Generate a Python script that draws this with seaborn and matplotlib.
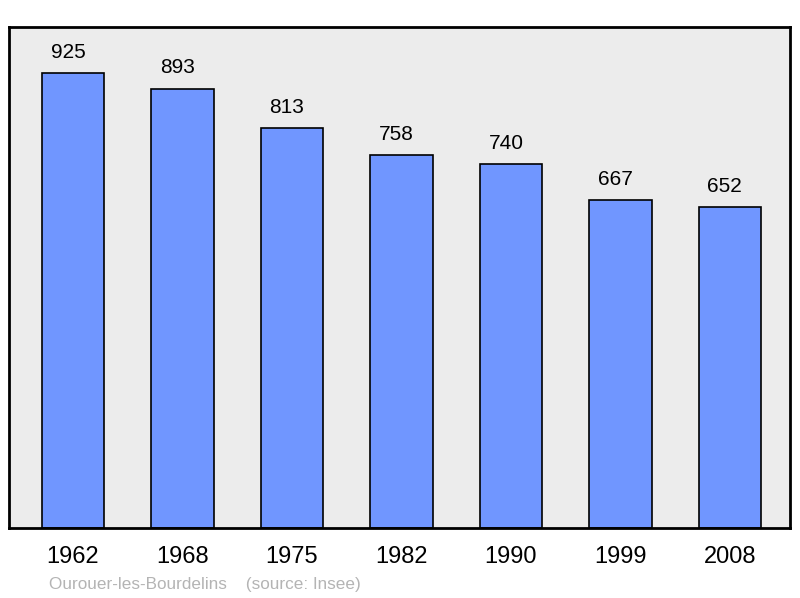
import matplotlib
matplotlib.use("Agg")
import matplotlib.pyplot as plt
import seaborn as sns
import pandas as pd

years = ["1962", "1968", "1975", "1982", "1990", "1999", "2008"]
population = [925, 893, 813, 758, 740, 667, 652]
footer = "Ourouer-les-Bourdelins    (source: Insee)"

sns.set_theme(style="white")
plt.rcParams['font.family'] = ['Liberation Sans', 'DejaVu Sans']

df = pd.DataFrame({"year": years, "pop": population})

fig = plt.figure(figsize=(8, 5.98), dpi=100)
ax = fig.add_axes([9/800, 1 - 528/598, 781/800, 501/598])
ax.set_facecolor("#ececec")

sns.barplot(data=df, x="year", y="pop", color="#7096ff", saturation=1,
            edgecolor="black", linewidth=1.2, width=0.57, ax=ax)

for bar, v in zip(ax.containers[0], population):
    ax.annotate(str(v), (bar.get_x() + bar.get_width() / 2, bar.get_height()),
                xytext=(-3.6, 8), textcoords="offset points",
                ha="center", va="bottom", fontsize=15, color="black")

ax.set_xlim(-0.585, 6.55)
ax.set_ylim(0, 1018)
ax.set_xlabel("")
ax.set_ylabel("")
ax.set_yticks([])
ax.tick_params(axis="x", length=0, pad=13, labelsize=17, colors="black")
for s in ax.spines.values():
    s.set_visible(True)
    s.set_color("black")
    s.set_linewidth(2)

fig.text(49/800, 1 - 584/598, footer, fontsize=12.3, color="#b4b4b4",
         ha="left", va="center")

fig.savefig("out.png", dpi=100)
